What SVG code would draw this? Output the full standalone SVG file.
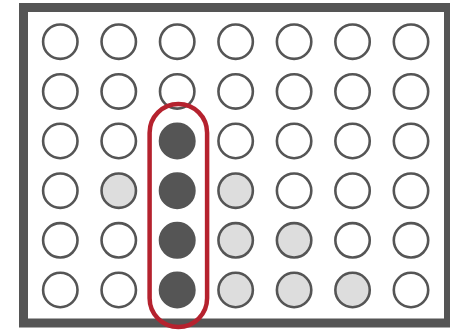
<svg xmlns="http://www.w3.org/2000/svg" width="450" height="331" viewBox="0 0 450 331">
<style>
.c{fill:#ffffff;stroke:#555555;stroke-width:2.6}
.l{fill:#dddddd;stroke:#555555;stroke-width:2.6}
.d{fill:#555555;stroke:#555555;stroke-width:2.6}
</style>
<rect width="450" height="331" fill="#ffffff"/>
<rect id="board" x="23.5" y="7.5" width="425" height="315.5" fill="#ffffff" stroke="#555555" stroke-width="9"/>
<g id="cells">
<g id="row1">
<circle class="c" cx="60.3" cy="41.7" r="17.2"/><circle class="c" cx="118.75" cy="41.7" r="17.2"/><circle class="c" cx="177.2" cy="41.7" r="17.2"/><circle class="c" cx="235.65" cy="41.7" r="17.2"/><circle class="c" cx="294.1" cy="41.7" r="17.2"/><circle class="c" cx="352.55" cy="41.7" r="17.2"/><circle class="c" cx="411" cy="41.7" r="17.2"/>
</g>
<g id="row2">
<circle class="c" cx="60.3" cy="91.4" r="17.2"/><circle class="c" cx="118.75" cy="91.4" r="17.2"/><circle class="c" cx="177.2" cy="91.4" r="17.2"/><circle class="c" cx="235.65" cy="91.4" r="17.2"/><circle class="c" cx="294.1" cy="91.4" r="17.2"/><circle class="c" cx="352.55" cy="91.4" r="17.2"/><circle class="c" cx="411" cy="91.4" r="17.2"/>
</g>
<g id="row3">
<circle class="c" cx="60.3" cy="141" r="17.2"/><circle class="c" cx="118.75" cy="141" r="17.2"/><circle class="d" cx="177.2" cy="141" r="17.2"/><circle class="c" cx="235.65" cy="141" r="17.2"/><circle class="c" cx="294.1" cy="141" r="17.2"/><circle class="c" cx="352.55" cy="141" r="17.2"/><circle class="c" cx="411" cy="141" r="17.2"/>
</g>
<g id="row4">
<circle class="c" cx="60.3" cy="190.7" r="17.2"/><circle class="l" cx="118.75" cy="190.7" r="17.2"/><circle class="d" cx="177.2" cy="190.7" r="17.2"/><circle class="l" cx="235.65" cy="190.7" r="17.2"/><circle class="c" cx="294.1" cy="190.7" r="17.2"/><circle class="c" cx="352.55" cy="190.7" r="17.2"/><circle class="c" cx="411" cy="190.7" r="17.2"/>
</g>
<g id="row5">
<circle class="c" cx="60.3" cy="240.3" r="17.2"/><circle class="c" cx="118.75" cy="240.3" r="17.2"/><circle class="d" cx="177.2" cy="240.3" r="17.2"/><circle class="l" cx="235.65" cy="240.3" r="17.2"/><circle class="l" cx="294.1" cy="240.3" r="17.2"/><circle class="c" cx="352.55" cy="240.3" r="17.2"/><circle class="c" cx="411" cy="240.3" r="17.2"/>
</g>
<g id="row6">
<circle class="c" cx="60.3" cy="290" r="17.2"/><circle class="c" cx="118.75" cy="290" r="17.2"/><circle class="d" cx="177.2" cy="290" r="17.2"/><circle class="l" cx="235.65" cy="290" r="17.2"/><circle class="l" cx="294.1" cy="290" r="17.2"/><circle class="l" cx="352.55" cy="290" r="17.2"/><circle class="c" cx="411" cy="290" r="17.2"/>
</g>
</g>
<g id="highlight">
<rect x="149.6" y="103.9" width="57.5" height="223.2" rx="28.75" ry="28.75" fill="none" stroke="#b5222e" stroke-width="4.5"/>
</g>
</svg>
